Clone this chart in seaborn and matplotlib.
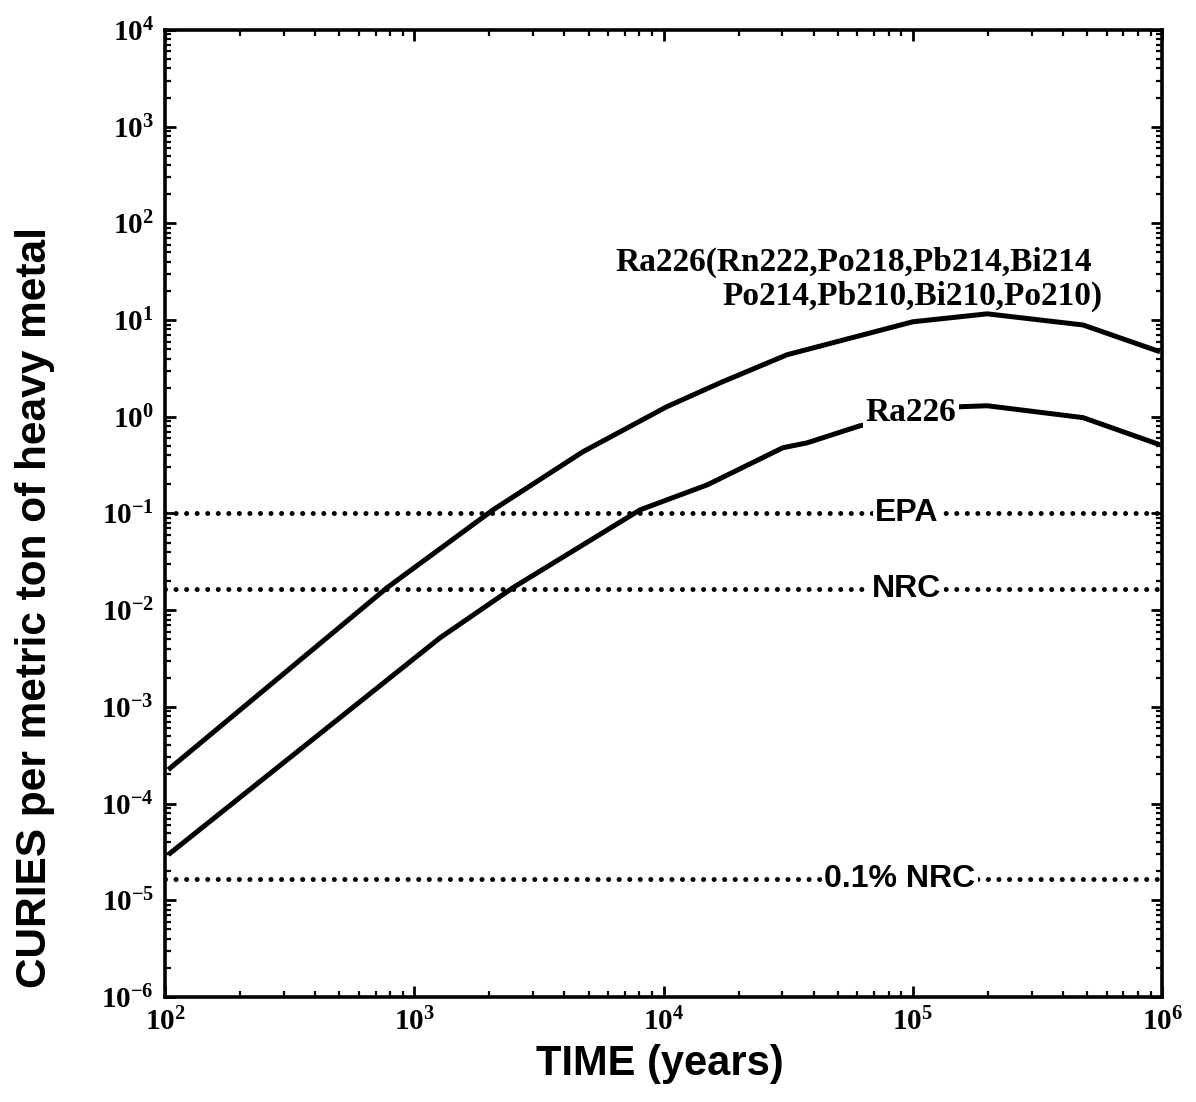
import numpy as np
import pandas as pd
import matplotlib
matplotlib.use("Agg")
import matplotlib.pyplot as plt
import seaborn as sns

# ---- data ----
time_chain = [1.03e2, 7.78e2, 2.07e3, 4.75e3, 1.03e4, 1.69e4, 3.13e4,
              1.0e5, 1.99e5, 4.82e5, 9.82e5]
ci_chain = [2.24e-4, 1.71e-2, 1.09e-1, 4.35e-1, 1.27e0, 2.25e0, 4.38e0,
            9.6e0, 1.16e1, 8.9e0, 4.7e0]

time_ra = [1.03e2, 1.27e3, 2.49e3, 8.05e3, 1.50e4, 3.01e4, 3.77e4,
           6.14e4, 1.55e5, 1.99e5, 4.82e5, 9.82e5]
ci_ra = [2.96e-5, 5.19e-3, 1.71e-2, 1.09e-1, 1.98e-1, 4.78e-1, 5.38e-1,
         8.07e-1, 1.27e0, 1.30e0, 9.8e-1, 5.13e-1]

limit_names = ["EPA", "NRC", "0.1% NRC"]
limit_values = [1.0e-1, 1.67e-2, 1.67e-5]

x_ticks = [1e2, 1e3, 1e4, 1e5, 1e6]
x_tick_labels = [r"$\mathdefault{10^{2}}$", r"$\mathdefault{10^{3}}$",
                 r"$\mathdefault{10^{4}}$", r"$\mathdefault{10^{5}}$",
                 r"$\mathdefault{10^{6}}$"]
y_ticks = [1e-6, 1e-5, 1e-4, 1e-3, 1e-2, 1e-1, 1e0, 1e1, 1e2, 1e3, 1e4]
y_tick_labels = [r"$\mathdefault{10^{-6}}$", r"$\mathdefault{10^{-5}}$",
                 r"$\mathdefault{10^{-4}}$", r"$\mathdefault{10^{-3}}$",
                 r"$\mathdefault{10^{-2}}$", r"$\mathdefault{10^{-1}}$",
                 r"$\mathdefault{10^{0}}$", r"$\mathdefault{10^{1}}$",
                 r"$\mathdefault{10^{2}}$", r"$\mathdefault{10^{3}}$",
                 r"$\mathdefault{10^{4}}$"]

chain_label_1 = "Ra226(Rn222,Po218,Pb214,Bi214"
chain_label_2 = "Po214,Pb210,Bi210,Po210)"
ra_label = "Ra226"
x_label = "TIME (years)"
y_label = "CURIES per metric ton of heavy metal"

# ---- style ----
sns.set_style("ticks")
plt.rcParams["font.family"] = ["Liberation Sans", "DejaVu Sans"]
for key in ["text.color", "axes.labelcolor", "xtick.color", "ytick.color",
            "axes.edgecolor"]:
    plt.rcParams[key] = "black"

fig = plt.figure(figsize=(11.96, 11.02), dpi=100)
ax = fig.add_axes([0.138, 0.0953, 0.8336, 0.8775])
ax.set_xscale("log")
ax.set_yscale("log")

df_chain = pd.DataFrame({"t": time_chain, "c": ci_chain})
df_ra = pd.DataFrame({"t": time_ra, "c": ci_ra})
sns.lineplot(data=df_chain, x="t", y="c", ax=ax, color="black", lw=3.6,
             solid_joinstyle="round", solid_capstyle="butt", zorder=3)
sns.lineplot(data=df_ra, x="t", y="c", ax=ax, color="black", lw=3.6,
             solid_joinstyle="round", solid_capstyle="butt", zorder=3)

for v in limit_values:
    ax.axhline(v, color="black", lw=3.6, linestyle=(0, (0.01, 2.1)),
               dash_capstyle="round", zorder=2)

ax.set_xlim(1e2, 1e6)
ax.set_ylim(1e-6, 1e4)

# labels on the limit lines
label_x = {"EPA": 0.744, "NRC": 0.744, "0.1% NRC": 0.737}
ytr = ax.get_yaxis_transform()
for name, v in zip(limit_names, limit_values):
    ax.text(label_x[name], v, name, transform=ytr, ha="center", va="center",
            fontsize=23, fontweight="bold", family="Liberation Sans",
            bbox=dict(facecolor="white", edgecolor="none", pad=1.5), zorder=4)

serif = dict(family="Liberation Serif", fontweight="bold", fontsize=24)
ax.text(0.4513, 0.760, chain_label_1, transform=ax.transAxes, ha="left",
        va="center", zorder=4, **serif)
ax.text(0.940, 0.725, chain_label_2, transform=ax.transAxes, ha="right",
        va="center", zorder=4, **serif)
ax.text(0.748, 0.604, ra_label, transform=ax.transAxes, ha="center",
        va="center", zorder=4,
        bbox=dict(facecolor="white", edgecolor="none", pad=2.0), **serif)

# ticks
ax.set_xticks(x_ticks, labels=x_tick_labels)
ax.set_yticks(y_ticks, labels=y_tick_labels)
ax.xaxis.set_minor_locator(matplotlib.ticker.LogLocator(base=10, subs=np.arange(2, 10), numticks=100))
ax.yaxis.set_minor_locator(matplotlib.ticker.LogLocator(base=10, subs=np.arange(2, 10), numticks=100))
ax.xaxis.set_minor_formatter(matplotlib.ticker.NullFormatter())
ax.yaxis.set_minor_formatter(matplotlib.ticker.NullFormatter())
ax.tick_params(which="both", direction="in", top=True, right=True, color="black")
ax.tick_params(which="major", length=8, width=2.0, pad=8)
ax.tick_params(which="minor", length=4, width=1.6)
for lab in ax.get_xticklabels() + ax.get_yticklabels():
    lab.set_family("Liberation Serif")
    lab.set_fontweight("bold")
    lab.set_fontsize(21)
    lab.set_color("black")

for sp in ax.spines.values():
    sp.set_linewidth(2.6)
    sp.set_color("black")

ax.set_xlabel(x_label, fontsize=30, fontweight="bold", family="Liberation Sans")
ax.set_ylabel(y_label, fontsize=30.5, fontweight="bold", family="Liberation Sans")
ax.xaxis.set_label_coords(0.496, -0.0486)
ax.yaxis.set_label_coords(-0.110, 0.403)

fig.savefig("out.png", dpi=100, facecolor="white")
